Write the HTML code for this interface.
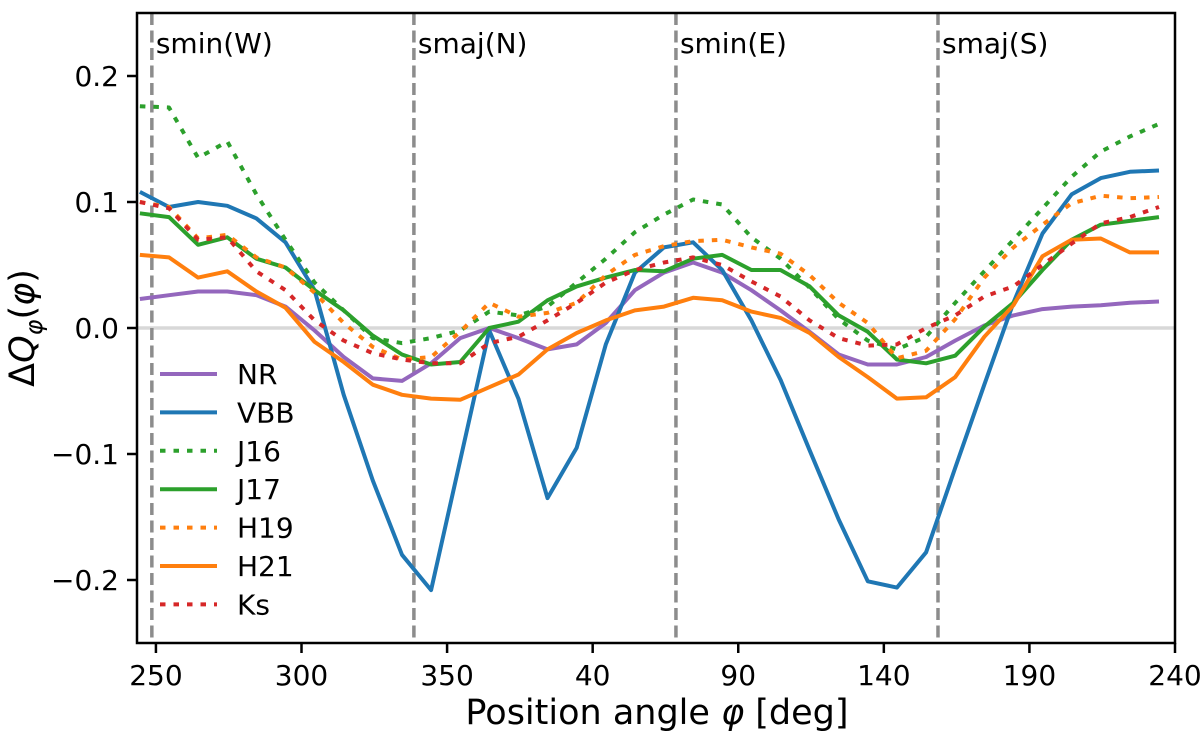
<!DOCTYPE html>
<html><head><meta charset="utf-8"><style>
html,body{margin:0;padding:0;background:#fff;}
svg{display:block;font-family:"DejaVu Sans","Liberation Sans",sans-serif;}
</style></head><body>
<svg id="chart" width="1200" height="735" viewBox="0 0 1200 735" xmlns="http://www.w3.org/2000/svg">
<g id="plot"></g>
</svg>
<script>
const phi = [];
for (let i = 0; i < 36; i++) phi.push(244.5 + 10 * i);
const xTickValues = [250, 300, 350, 400, 450, 500, 550, 600];
const xTickLabels = ["250", "300", "350", "40", "90", "140", "190", "240"];
const yTickValues = [-0.2, -0.1, 0.0, 0.1, 0.2];
const yTickLabels = ["\u22120.2", "\u22120.1", "0.0", "0.1", "0.2"];
const markerAngles = [248.6, 338.6, 428.6, 518.6];
const markerLabels = ["smin(W)", "smaj(N)", "smin(E)", "smaj(S)"];
const seriesNames = ["NR", "VBB", "J16", "J17", "H19", "H21", "Ks"];
const NR = [0.023,0.026,0.029,0.029,0.026,0.017,-0.002,-0.023,-0.040,-0.042,-0.028,-0.008,0.000,-0.008,-0.017,-0.013,0.004,0.030,0.044,0.052,0.044,0.030,0.014,-0.003,-0.021,-0.029,-0.029,-0.023,-0.010,0.002,0.010,0.015,0.017,0.018,0.020,0.021];
const VBB = [0.108,0.096,0.100,0.097,0.087,0.068,0.030,-0.053,-0.121,-0.180,-0.208,-0.105,-0.002,-0.056,-0.135,-0.095,-0.013,0.044,0.064,0.068,0.046,0.006,-0.041,-0.097,-0.152,-0.201,-0.206,-0.178,-0.111,-0.045,0.020,0.075,0.106,0.119,0.124,0.125];
const J16 = [0.176,0.175,0.135,0.148,0.106,0.070,0.036,0.014,-0.008,-0.012,-0.008,-0.002,0.013,0.010,0.017,0.036,0.055,0.076,0.090,0.102,0.098,0.072,0.055,0.032,0.007,-0.010,-0.017,-0.007,0.020,0.045,0.070,0.095,0.120,0.140,0.152,0.162];
const J17 = [0.091,0.088,0.066,0.072,0.055,0.048,0.030,0.014,-0.006,-0.021,-0.029,-0.027,0.000,0.005,0.022,0.033,0.040,0.046,0.045,0.055,0.058,0.046,0.046,0.033,0.010,-0.003,-0.025,-0.028,-0.022,0.001,0.020,0.046,0.070,0.082,0.085,0.088];
const H19 = [0.100,0.096,0.071,0.074,0.056,0.048,0.028,0.004,-0.015,-0.025,-0.023,-0.003,0.020,0.009,0.012,0.020,0.042,0.058,0.065,0.069,0.070,0.064,0.059,0.042,0.020,0.004,-0.024,-0.018,0.007,0.040,0.064,0.082,0.099,0.105,0.103,0.104];
const H21 = [0.058,0.056,0.040,0.045,0.029,0.016,-0.011,-0.027,-0.045,-0.053,-0.056,-0.057,-0.047,-0.037,-0.017,-0.004,0.006,0.014,0.017,0.024,0.022,0.013,0.008,-0.004,-0.023,-0.039,-0.056,-0.055,-0.039,-0.007,0.018,0.057,0.070,0.071,0.060,0.060];
const Ks = [0.100,0.095,0.070,0.072,0.045,0.030,0.006,-0.010,-0.020,-0.025,-0.028,-0.028,-0.012,-0.007,0.006,0.020,0.036,0.046,0.052,0.056,0.050,0.037,0.025,0.006,-0.008,-0.014,-0.013,0.000,0.010,0.025,0.033,0.050,0.067,0.083,0.088,0.096];

const NS = "http://www.w3.org/2000/svg";
const L = 137, R = 1175, T = 13, B = 643;
const xMin = 243.5, xMax = 600, yMin = -0.25, yMax = 0.25;
function xs(d) { return L + (d - xMin) / (xMax - xMin) * (R - L); }
function ys(v) { return B - (v - yMin) / (yMax - yMin) * (B - T); }
const plot = document.getElementById('plot');
function mk(tag, attrs, parent) {
  const e = document.createElementNS(NS, tag);
  for (const k in attrs) e.setAttribute(k, attrs[k]);
  (parent || plot).appendChild(e);
  return e;
}
const colors = {NR:"#9467bd", VBB:"#1f77b4", J16:"#2ca02c", J17:"#2ca02c", H19:"#ff7f0e", H21:"#ff7f0e", Ks:"#d62728"};
const dotted = {J16:true, H19:true, Ks:true};
const dataMap = {NR, VBB, J16, J17, H19, H21, Ks};
const LW = 4;

let z = mk('line', {x1:L, x2:R, y1:ys(0), y2:ys(0), stroke:"#d8d8d8", "stroke-width":3.5});



markerAngles.forEach((a, i) => {
  const ln = mk('line', {x1:xs(a), x2:xs(a), y1:T, y2:B, stroke:"#8c8c8c", "stroke-width":3.5, "stroke-dasharray":"12 5.5"});
  
  
  const t = mk('text', {x:xs(a) + 4, y:53, "font-size":28, fill:"#000"});
  t.textContent = markerLabels[i];
  
  
});

seriesNames.forEach(name => {
  const vals = dataMap[name];
  const pts = vals.map((v, i) => xs(phi[i]).toFixed(1) + "," + ys(v).toFixed(1)).join(" ");
  const attrs = {points:pts, fill:"none", stroke:colors[name], "stroke-width":LW, "stroke-linejoin":"round"};
  if (dotted[name]) { attrs["stroke-dasharray"] = "5.5 8"; }
  const pl = mk('polyline', attrs);
  
  
});

const fr = mk('rect', {x:L, y:T, width:R-L, height:B-T, fill:"none", stroke:"#000", "stroke-width":2.5});



xTickValues.forEach((v, i) => {
  const x = xs(v);
  const tk = mk('line', {x1:x, x2:x, y1:B, y2:B + 10, stroke:"#000", "stroke-width":2.5});
  
  
  const t = mk('text', {x:x, y:B + 42, "font-size":28, "text-anchor":"middle", fill:"#000"});
  t.textContent = xTickLabels[i];
  
  
});
yTickValues.forEach((v, i) => {
  const y = ys(v);
  const tk = mk('line', {x1:L - 10, x2:L, y1:y, y2:y, stroke:"#000", "stroke-width":2.5});
  
  
  const t = mk('text', {x:L - 18, y:y + 10, "font-size":28, "text-anchor":"end", fill:"#000"});
  t.textContent = yTickLabels[i];
  
  
});

const xt = mk('text', {x:657, y:724, "font-size":35, "text-anchor":"middle", fill:"#000"});
xt.innerHTML = 'Position angle <tspan font-style="italic">\u03C6</tspan> [deg]';


const yt = mk('text', {x:0, y:0, "font-size":35, "text-anchor":"middle", fill:"#000", transform:"translate(34,328) rotate(-90)"});
yt.innerHTML = '\u0394<tspan font-style="italic">Q</tspan><tspan font-size="24" dy="8" font-style="italic">\u03C6</tspan><tspan dy="-8">(</tspan><tspan font-style="italic">\u03C6</tspan>)';



const legY0 = 374, legDY = 38.4;
seriesNames.forEach((name, i) => {
  const y = legY0 + i * legDY;
  const la = {x1:160, x2:217, y1:y, y2:y, stroke:colors[name], "stroke-width":LW};
  if (dotted[name]) la["stroke-dasharray"] = "5.5 8";
  const ln = mk('line', la);
  
  
  const t = mk('text', {x:237, y:y + 10, "font-size":28, fill:"#000"});
  t.textContent = name;
  
  
});
</script>
</body></html>
